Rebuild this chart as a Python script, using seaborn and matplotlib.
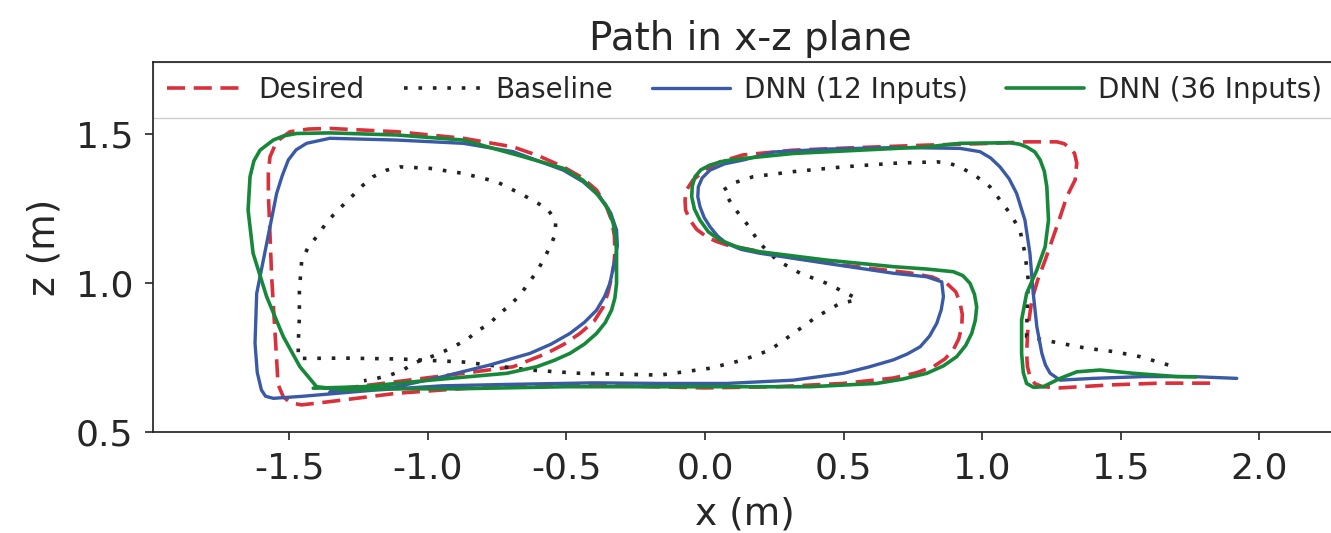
import matplotlib
matplotlib.use("Agg")
import matplotlib.pyplot as plt
import seaborn as sns
import pandas as pd

# ---------------- data ----------------
series_names = ["Desired", "Baseline", "DNN (12 Inputs)", "DNN (36 Inputs)"]

x_desired = [1.822, 1.641, 1.461, 1.281, 1.219, 1.190, 1.172, 1.163, 1.160, 1.165, 1.179, 1.200,
             1.227, 1.281, 1.305, 1.335, 1.341, 1.333, 1.317, 1.295, 1.269, 1.160, 1.039, 0.800,
             0.559, 0.318, 0.137, 0.054, 0.005, -0.043, -0.065, -0.072, -0.070, -0.054, -0.030,
             0.006, 0.040, 0.078, 0.259, 0.498, 0.740, 0.820, 0.872, 0.905, 0.920, 0.928, 0.926,
             0.915, 0.895, 0.865, 0.823, 0.760, 0.678, 0.498, 0.259, 0.000, -0.330, -0.631,
             -0.872, -1.112, -1.353, -1.455, -1.495, -1.521, -1.540, -1.545, -1.563, -1.575,
             -1.575, -1.569, -1.545, -1.497, -1.430, -1.353, -1.112, -0.872, -0.692, -0.600,
             -0.511, -0.445, -0.391, -0.358, -0.337, -0.327, -0.325, -0.328, -0.337, -0.349,
             -0.367, -0.400, -0.451, -0.508, -0.571, -0.692, -0.872, -1.112, -1.353]
z_desired = [0.664, 0.664, 0.658, 0.648, 0.652, 0.662, 0.686, 0.720, 0.765, 0.853, 0.943, 1.010,
             1.077, 1.222, 1.290, 1.346, 1.403, 1.435, 1.453, 1.468, 1.474, 1.474, 1.469, 1.463,
             1.455, 1.446, 1.430, 1.407, 1.383, 1.346, 1.315, 1.279, 1.245, 1.211, 1.180,
             1.155, 1.140, 1.128, 1.094, 1.060, 1.034, 1.020, 0.999, 0.970, 0.933, 0.895, 0.853,
             0.812, 0.775, 0.745, 0.719, 0.698, 0.681, 0.663, 0.652, 0.648, 0.655, 0.658,
             0.646, 0.630, 0.602, 0.591, 0.598, 0.618, 0.660, 0.742, 1.021, 1.301,
             1.370, 1.424, 1.475, 1.508, 1.517, 1.519, 1.508, 1.486, 1.457, 1.427,
             1.390, 1.355, 1.312, 1.262, 1.211, 1.160, 1.111, 1.066, 1.021, 0.970,
             0.920, 0.872, 0.831, 0.795, 0.764, 0.719, 0.697, 0.669, 0.641]

x_baseline = [1.671, 1.569, 1.473, 1.377, 1.281, 1.220, 1.160, 1.162, 1.166, 1.154, 1.136, 1.100,
              1.064, 1.028, 0.980, 0.920, 0.880, 0.836, 0.679, 0.499, 0.319, 0.174, 0.110, 0.066,
              0.102, 0.150, 0.198, 0.259, 0.343, 0.439, 0.535, 0.547, 0.487, 0.403, 0.319, 0.234,
              0.138, 0.018, -0.162, -0.451, -0.631, -0.872, -1.100, -1.300, -1.467, -1.467,
              -1.463, -1.463, -1.455, -1.431, -1.401, -1.371, -1.341, -1.305, -1.269, -1.233,
              -1.197, -1.148, -1.100, -0.992, -0.872, -0.751, -0.655, -0.571, -0.538, -0.541,
              -0.559, -0.583, -0.607, -0.637, -0.667, -0.703, -0.740, -0.776, -0.824, -0.860,
              -0.908, -0.956, -1.004, -1.052, -1.088, -1.136, -1.184, -1.230]
z_baseline = [0.725, 0.753, 0.770, 0.781, 0.798, 0.809, 0.820, 0.910, 1.010, 1.100, 1.178, 1.234,
              1.279, 1.323, 1.357, 1.390, 1.402, 1.407, 1.402, 1.390, 1.374, 1.357, 1.338, 1.312,
              1.256, 1.200, 1.133, 1.077, 1.033, 0.999, 0.954, 0.943, 0.932, 0.887, 0.831, 0.775,
              0.742, 0.714, 0.691, 0.697, 0.708, 0.735, 0.745, 0.748, 0.747, 0.798,
              0.887, 0.977, 1.071, 1.122, 1.155, 1.195, 1.228, 1.262, 1.295, 1.329,
              1.357, 1.379, 1.390, 1.385, 1.368, 1.340, 1.295, 1.251, 1.211, 1.161,
              1.122, 1.077, 1.038, 0.999, 0.960, 0.926, 0.898, 0.865, 0.837, 0.809,
              0.786, 0.764, 0.747, 0.731, 0.708, 0.691, 0.680, 0.672]

x_dnn12 = [1.918, 1.761, 1.581, 1.400, 1.281, 1.245, 1.228, 1.215, 1.197, 1.184, 1.172, 1.154,
           1.124, 1.097, 1.064, 1.030, 0.992, 0.920, 0.700, 0.450, 0.250, 0.138, 0.070, 0.018,
           -0.010, -0.024, -0.026, -0.018, -0.003, 0.018, 0.045, 0.078, 0.130, 0.198, 0.439,
           0.679, 0.800, 0.854, 0.860, 0.852, 0.836, 0.810, 0.776, 0.730, 0.679, 0.590, 0.499,
           0.319, 0.078, -0.162, -0.400, -0.700, -0.950, -1.200, -1.450, -1.557, -1.585, -1.600,
           -1.615, -1.623, -1.617, -1.581, -1.545, -1.525, -1.503, -1.475, -1.437, -1.353,
           -1.112, -0.872, -0.692, -0.511, -0.440, -0.379, -0.340, -0.319, -0.316, -0.325,
           -0.343, -0.362, -0.391, -0.435, -0.487, -0.555, -0.631, -0.776, -0.950, -1.112,
           -1.353]
z_dnn12 = [0.680, 0.686, 0.686, 0.680, 0.674, 0.697, 0.725, 0.764, 0.853, 0.965, 1.100, 1.211,
           1.301, 1.350, 1.390, 1.420, 1.441, 1.452, 1.455, 1.450, 1.440, 1.413, 1.400, 1.379,
           1.353, 1.323, 1.290, 1.256, 1.220, 1.189, 1.158, 1.133, 1.113, 1.100, 1.066,
           1.033, 1.021, 1.004, 0.954, 0.910, 0.865, 0.822, 0.786, 0.762, 0.742, 0.718, 0.697,
           0.674, 0.663, 0.663, 0.665, 0.660, 0.655, 0.640, 0.620, 0.613, 0.620, 0.641,
           0.700, 0.798, 0.965, 1.133, 1.301, 1.360, 1.413, 1.447, 1.469, 1.486,
           1.480, 1.469, 1.441, 1.379, 1.340, 1.290, 1.235, 1.178, 1.125, 1.077,
           0.999, 0.955, 0.909, 0.868, 0.831, 0.795, 0.764, 0.725, 0.685, 0.652,
           0.635]

x_dnn36 = [1.771, 1.702, 1.545, 1.425, 1.341, 1.281, 1.220, 1.185, 1.160, 1.148, 1.142, 1.142,
           1.160, 1.197, 1.227, 1.239, 1.233, 1.224, 1.209, 1.190, 1.160, 1.135, 1.100, 0.920,
           0.800, 0.559, 0.319, 0.138, 0.070, 0.018, -0.015, -0.036, -0.046, -0.048, -0.038,
           -0.018, 0.012, 0.054, 0.120, 0.198, 0.439, 0.679, 0.800, 0.896, 0.930, 0.956, 0.972,
           0.980, 0.975, 0.962, 0.940, 0.908, 0.860, 0.800, 0.710, 0.619, 0.379, 0.078, -0.162,
           -0.500, -0.900, -1.150, -1.293, -1.401, -1.461, -1.521, -1.581, -1.630, -1.648,
           -1.641, -1.627, -1.605, -1.557, -1.520, -1.473, -1.353, -1.112, -0.872, -0.655,
           -0.511, -0.440, -0.391, -0.350, -0.331, -0.322, -0.319, -0.319, -0.325, -0.337,
           -0.360, -0.391, -0.435, -0.487, -0.545, -0.607, -0.715, -0.992, -1.233, -1.413]
z_dnn36 = [0.685, 0.686, 0.697, 0.708, 0.702, 0.680, 0.652, 0.650, 0.663, 0.700, 0.764, 0.876,
           0.965, 1.044, 1.122, 1.211, 1.323, 1.375, 1.413, 1.440, 1.457, 1.466, 1.471, 1.469,
           1.457, 1.446, 1.435, 1.418, 1.410, 1.396, 1.380, 1.357, 1.325, 1.290, 1.248,
           1.211, 1.172, 1.144, 1.120, 1.105, 1.077, 1.055, 1.047, 1.038, 1.025, 0.999, 0.962,
           0.920, 0.875, 0.831, 0.790, 0.753, 0.722, 0.697, 0.677, 0.663, 0.652, 0.652, 0.652,
           0.652, 0.645, 0.645, 0.641, 0.652, 0.719, 0.820, 0.954, 1.100, 1.245,
           1.357, 1.410, 1.446, 1.480, 1.494, 1.502, 1.504, 1.497, 1.480, 1.424,
           1.385, 1.345, 1.301, 1.250, 1.200, 1.150, 1.100, 0.999, 0.950, 0.909,
           0.867, 0.831, 0.795, 0.764, 0.740, 0.719, 0.697, 0.674, 0.652, 0.647]

x_ticks = [-1.5, -1.0, -0.5, 0.0, 0.5, 1.0, 1.5, 2.0]
z_ticks = [0.5, 1.0, 1.5]

# ---------------- styling ----------------
sns.set_theme(style="ticks")
plt.rcParams["font.family"] = ["DejaVu Sans"]
plt.rcParams["axes.unicode_minus"] = False

colors = {"Desired": "#d9303c", "Baseline": "#222222",
          "DNN (12 Inputs)": "#3a5aa6", "DNN (36 Inputs)": "#17883a"}
styles = {"Desired": (0, (5, 2.4)), "Baseline": (0, (1, 3)),
          "DNN (12 Inputs)": "-", "DNN (36 Inputs)": "-"}
widths = {"Desired": 2.6, "Baseline": 2.6, "DNN (12 Inputs)": 2.4, "DNN (36 Inputs)": 2.6}

data = {
    "Desired": (x_desired, z_desired),
    "Baseline": (x_baseline, z_baseline),
    "DNN (12 Inputs)": (x_dnn12, z_dnn12),
    "DNN (36 Inputs)": (x_dnn36, z_dnn36),
}

fig = plt.figure(figsize=(13.31, 5.33), dpi=100)
ax = fig.add_axes([153 / 1331, (533 - 432) / 533, (1336 - 153) / 1331, (432 - 62) / 533])

for name in series_names:
    xs, zs = data[name]
    df = pd.DataFrame({"x": xs, "z": zs})
    sns.lineplot(data=df, x="x", y="z", sort=False, estimator=None, ax=ax,
                 color=colors[name], linestyle=styles[name], lw=widths[name], label=name)

ax.set_xlim(-1.991, 2.276)
ax.set_ylim(0.5, 1.742)
ax.set_xticks(x_ticks)
ax.set_yticks(z_ticks)
ax.tick_params(axis="both", labelsize=26, length=6, width=1.2, pad=8)
ax.set_xlabel("x (m)", fontsize=27, labelpad=8)
ax.set_ylabel("z (m)", fontsize=27, labelpad=10)
ax.set_title("Path in x-z plane", fontsize=28, x=0.505, pad=9)

leg = ax.legend(ncol=4, loc="upper left", bbox_to_anchor=(0, 1, 1, 0), mode="expand",
                borderaxespad=0, fontsize=20, handlelength=2.8, handletextpad=0.5,
                columnspacing=0.4, borderpad=0.5, fancybox=False, edgecolor="0.8",
                framealpha=1)
leg.set_zorder(2.4)

fig.savefig("out.png", dpi=100)
